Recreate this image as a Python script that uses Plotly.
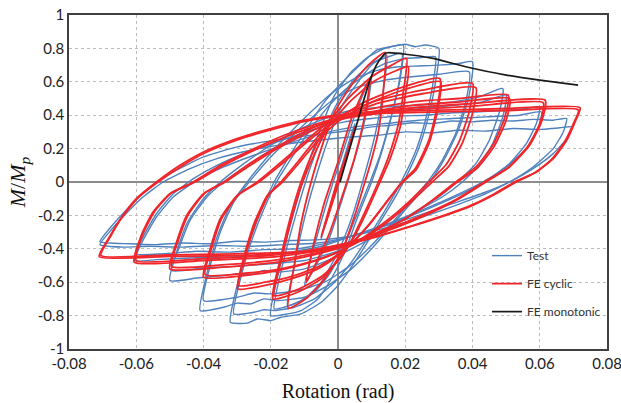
import plotly.graph_objects as go

# ---------------- axis ticks ----------------
x_tick_vals = [-0.08, -0.06, -0.04, -0.02, 0.0, 0.02, 0.04, 0.06, 0.08]
x_tick_text = ["-0.08", "-0.06", "-0.04", "-0.02", "0", "0.02", "0.04", "0.06", "0.08"]
y_tick_vals = [-1, -0.8, -0.6, -0.4, -0.2, 0, 0.2, 0.4, 0.6, 0.8, 1]
y_tick_text = ["-1", "-0.8", "-0.6", "-0.4", "-0.2", "0", "0.2", "0.4", "0.6", "0.8", "1"]

# ---------------- FE monotonic (rotation, M/Mp) ----------------
mono_x = [0.0006, 0.0035, 0.0065, 0.0095, 0.012, 0.014, 0.0149, 0.020, 0.0283, 0.038, 0.050, 0.060, 0.0714]
mono_y = [0.0, 0.20, 0.41, 0.61, 0.72, 0.77, 0.774, 0.765, 0.74, 0.69, 0.64, 0.61, 0.58]

# ---------------- FE cyclic loops: (rotation, M/Mp) ----------------
fe_005 = [(-0.005, -0.33), (0.0, -0.02), (0.005, 0.33), (0.0045, 0.28), (0.0, 0.02), (-0.005, -0.33)]
fe_010 = [(-0.0095, -0.60), (-0.007, -0.35), (-0.004, -0.12), (0.0, 0.12), (0.004, 0.38), (0.0095, 0.62),
          (0.008, 0.40), (0.005, 0.15), (0.001, -0.10), (-0.003, -0.33), (-0.0095, -0.60)]
fe_015 = [(-0.0148, -0.756), (-0.013, -0.50), (-0.011, -0.25), (-0.008, 0.0), (-0.005, 0.20), (-0.001, 0.42),
          (0.004, 0.58), (0.009, 0.70), (0.014, 0.775), (0.0135, 0.55), (0.012, 0.30), (0.0095, 0.10),
          (0.008, 0.0), (0.005, -0.20), (0.001, -0.42), (-0.004, -0.58), (-0.009, -0.69), (-0.0148, -0.756)]
fe_020_1 = [(-0.0194, -0.70), (-0.017, -0.45), (-0.014, -0.20), (-0.011, 0.0), (-0.007, 0.20), (-0.003, 0.35),
            (0.003, 0.50), (0.010, 0.63), (0.016, 0.70), (0.0204, 0.74), (0.0195, 0.55), (0.018, 0.35),
            (0.015, 0.15), (0.012, 0.0), (0.008, -0.18), (0.004, -0.35), (0.0, -0.47), (-0.005, -0.58),
            (-0.012, -0.66), (-0.0194, -0.70)]
fe_020_2 = [(-0.019, -0.68), (-0.0165, -0.44), (-0.0135, -0.195), (-0.0105, 0.0), (-0.0065, 0.19), (-0.0025, 0.34),
            (0.0035, 0.48), (0.0105, 0.60), (0.0165, 0.66), (0.0209, 0.69), (0.0200, 0.52), (0.0185, 0.33),
            (0.0155, 0.14), (0.0125, 0.0), (0.0085, -0.18), (0.0045, -0.34), (0.0005, -0.46), (-0.0045, -0.56),
            (-0.0115, -0.64), (-0.019, -0.68)]
fe_030_1 = [(-0.0298, -0.64), (-0.028, -0.45), (-0.025, -0.25), (-0.021, -0.08), (-0.017, 0.0), (-0.012, 0.12),
            (-0.006, 0.27), (0.0, 0.38), (0.008, 0.48), (0.018, 0.56), (0.0303, 0.62), (0.0295, 0.45),
            (0.027, 0.25), (0.023, 0.08), (0.019, 0.0), (0.014, -0.13), (0.009, -0.26), (0.004, -0.37),
            (0.0, -0.44), (-0.006, -0.52), (-0.014, -0.58), (-0.022, -0.62), (-0.0298, -0.64)]
fe_030_2 = [(-0.0295, -0.62), (-0.0275, -0.44), (-0.0245, -0.245), (-0.0205, -0.075), (-0.0165, 0.0), (-0.0115, 0.115),
            (-0.0055, 0.26), (0.0005, 0.37), (0.0085, 0.465), (0.0185, 0.545), (0.0305, 0.60), (0.0297, 0.44),
            (0.0273, 0.245), (0.0233, 0.075), (0.0193, 0.0), (0.0143, -0.125), (0.0093, -0.255), (0.0043, -0.36),
            (0.0003, -0.43), (-0.0057, -0.505), (-0.0137, -0.565), (-0.0217, -0.60), (-0.0295, -0.62)]
fe_040_1 = [(-0.040, -0.57), (-0.038, -0.40), (-0.035, -0.22), (-0.030, -0.08), (-0.024, 0.0), (-0.018, 0.10),
            (-0.010, 0.24), (-0.004, 0.34), (0.003, 0.42), (0.012, 0.49), (0.025, 0.55), (0.040, 0.59),
            (0.039, 0.42), (0.036, 0.24), (0.032, 0.10), (0.027, 0.0), (0.021, -0.12), (0.014, -0.24),
            (0.007, -0.34), (0.0, -0.42), (-0.008, -0.48), (-0.018, -0.53), (-0.028, -0.56), (-0.040, -0.57)]
fe_040_2 = [(-0.0395, -0.555), (-0.0375, -0.39), (-0.0345, -0.215), (-0.0295, -0.075), (-0.0235, 0.0), (-0.0175, 0.095),
            (-0.0095, 0.235), (-0.0035, 0.33), (0.0035, 0.41), (0.0125, 0.475), (0.0255, 0.53), (0.041, 0.565),
            (0.040, 0.41), (0.037, 0.235), (0.033, 0.095), (0.028, 0.0), (0.022, -0.115), (0.015, -0.235),
            (0.008, -0.335), (0.001, -0.41), (-0.007, -0.47), (-0.017, -0.52), (-0.027, -0.545), (-0.0395, -0.555)]
fe_050_1 = [(-0.050, -0.52), (-0.048, -0.36), (-0.045, -0.20), (-0.040, -0.07), (-0.034, 0.0), (-0.027, 0.10),
            (-0.019, 0.20), (-0.010, 0.30), (-0.002, 0.37), (0.008, 0.43), (0.022, 0.48), (0.036, 0.50),
            (0.0506, 0.52), (0.0495, 0.38), (0.046, 0.22), (0.041, 0.09), (0.035, 0.0), (0.028, -0.11),
            (0.020, -0.22), (0.011, -0.31), (0.003, -0.38), (-0.006, -0.43), (-0.018, -0.48), (-0.034, -0.51),
            (-0.050, -0.52)]
fe_050_2 = [(-0.0495, -0.505), (-0.0475, -0.35), (-0.0445, -0.195), (-0.0395, -0.065), (-0.0335, 0.0), (-0.0265, 0.095),
            (-0.0185, 0.195), (-0.0095, 0.29), (-0.0015, 0.36), (0.0085, 0.415), (0.0225, 0.46), (0.0365, 0.48),
            (0.051, 0.50), (0.050, 0.37), (0.0465, 0.215), (0.0415, 0.085), (0.0355, 0.0), (0.0285, -0.105),
            (0.0205, -0.215), (0.0115, -0.305), (0.0035, -0.37), (-0.0055, -0.42), (-0.0175, -0.465), (-0.0335, -0.495),
            (-0.0495, -0.505)]
fe_060_1 = [(-0.0606, -0.48), (-0.0585, -0.32), (-0.055, -0.18), (-0.050, -0.07), (-0.043, 0.0), (-0.035, 0.10),
            (-0.026, 0.19), (-0.016, 0.28), (-0.006, 0.35), (0.004, 0.40), (0.020, 0.44), (0.040, 0.47),
            (0.0616, 0.49), (0.0605, 0.36), (0.057, 0.22), (0.051, 0.09), (0.044, 0.0), (0.036, -0.10),
            (0.026, -0.20), (0.015, -0.29), (0.005, -0.36), (-0.005, -0.41), (-0.020, -0.45), (-0.040, -0.47),
            (-0.0606, -0.48)]
fe_060_2 = [(-0.060, -0.47), (-0.058, -0.31), (-0.0545, -0.175), (-0.0495, -0.065), (-0.0425, 0.0), (-0.0345, 0.095),
            (-0.0255, 0.185), (-0.0155, 0.27), (-0.0055, 0.34), (0.0045, 0.39), (0.0205, 0.43), (0.0405, 0.455),
            (0.061, 0.475), (0.060, 0.35), (0.0565, 0.215), (0.0505, 0.085), (0.0435, 0.0), (0.0355, -0.10),
            (0.0255, -0.195), (0.0145, -0.285), (0.0045, -0.355), (-0.0055, -0.40), (-0.0205, -0.44), (-0.0405, -0.46),
            (-0.060, -0.47)]
fe_070_1 = [(-0.071, -0.447), (-0.068, -0.33), (-0.065, -0.23), (-0.060, -0.10), (-0.054, 0.0), (-0.047, 0.10),
            (-0.040, 0.18), (-0.030, 0.26), (-0.020, 0.32), (-0.010, 0.37), (0.0, 0.40), (0.010, 0.42),
            (0.030, 0.43), (0.050, 0.44), (0.072, 0.445), (0.0705, 0.36), (0.068, 0.25), (0.064, 0.14),
            (0.059, 0.06), (0.053, 0.0), (0.047, -0.07), (0.040, -0.14), (0.032, -0.20), (0.022, -0.265),
            (0.012, -0.325), (0.0, -0.385), (-0.010, -0.42), (-0.030, -0.44), (-0.050, -0.445), (-0.071, -0.447)]
fe_070_2 = [(-0.0705, -0.44), (-0.0675, -0.32), (-0.0645, -0.22), (-0.0595, -0.095), (-0.0535, 0.0), (-0.0465, 0.095),
            (-0.0395, 0.175), (-0.0295, 0.255), (-0.0195, 0.315), (-0.0095, 0.365), (0.0005, 0.395), (0.0105, 0.41),
            (0.0305, 0.42), (0.0505, 0.428), (0.0715, 0.432), (0.070, 0.35), (0.0675, 0.245), (0.0635, 0.135),
            (0.0585, 0.055), (0.0525, 0.0), (0.0465, -0.07), (0.0395, -0.14), (0.0315, -0.20), (0.0215, -0.265),
            (0.0115, -0.325), (-0.0005, -0.38), (-0.0105, -0.415), (-0.0305, -0.43), (-0.0505, -0.437), (-0.0705, -0.44)]

# ---------------- Test loops: (rotation, M/Mp) ----------------
test_005 = [(-0.005, -0.34), (-0.001, -0.05), (0.005, 0.35), (0.0045, 0.29), (0.0, 0.0), (-0.005, -0.34)]
test_010 = [(-0.010, -0.62), (-0.007, -0.38), (-0.003, -0.10), (0.001, 0.15), (0.005, 0.40), (0.010, 0.64),
            (0.0085, 0.42), (0.005, 0.14), (0.001, -0.12), (-0.003, -0.36), (-0.010, -0.62)]
test_015 = [(-0.015, -0.74), (-0.013, -0.50), (-0.010, -0.22), (-0.007, 0.0), (-0.003, 0.25), (0.001, 0.45),
            (0.006, 0.60), (0.010, 0.70), (0.0145, 0.76), (0.0135, 0.55), (0.011, 0.28), (0.008, 0.05),
            (0.004, -0.22), (0.0, -0.42), (-0.005, -0.60), (-0.010, -0.70), (-0.015, -0.74)]
test_020_1 = [(-0.020, -0.80), (-0.018, -0.57), (-0.015, -0.32), (-0.012, -0.10), (-0.009, 0.10), (-0.005, 0.33),
              (-0.001, 0.52), (0.004, 0.66), (0.009, 0.75), (0.014, 0.80), (0.0194, 0.82), (0.0185, 0.62),
              (0.016, 0.40), (0.013, 0.18), (0.010, 0.0), (0.006, -0.20), (0.002, -0.42), (-0.002, -0.58),
              (-0.006, -0.70), (-0.011, -0.77), (-0.015, -0.79), (-0.020, -0.80)]
test_020_2 = [(-0.019, -0.76), (-0.017, -0.54), (-0.014, -0.30), (-0.011, -0.09), (-0.008, 0.10), (-0.004, 0.31),
              (0.0, 0.48), (0.005, 0.62), (0.010, 0.71), (0.015, 0.75), (0.019, 0.77), (0.018, 0.58),
              (0.0155, 0.37), (0.0125, 0.16), (0.0095, 0.0), (0.0055, -0.20), (0.0015, -0.40), (-0.0025, -0.55),
              (-0.007, -0.66), (-0.012, -0.72), (-0.016, -0.75), (-0.019, -0.76)]
test_030_1 = [(-0.032, -0.84), (-0.030, -0.62), (-0.027, -0.40), (-0.023, -0.18), (-0.019, 0.0), (-0.014, 0.17),
              (-0.009, 0.33), (-0.004, 0.48), (0.0, 0.57), (0.006, 0.69), (0.0115, 0.79), (0.0155, 0.81),
              (0.020, 0.825), (0.023, 0.81), (0.026, 0.82), (0.030, 0.80), (0.029, 0.60), (0.027, 0.40),
              (0.024, 0.20), (0.020, 0.02), (0.015, -0.16), (0.010, -0.32), (0.005, -0.48), (0.0, -0.62),
              (-0.005, -0.72), (-0.011, -0.79), (-0.017, -0.81), (-0.020, -0.83), (-0.024, -0.82),
              (-0.027, -0.845), (-0.032, -0.84)]
test_030_2 = [(-0.031, -0.79), (-0.029, -0.58), (-0.026, -0.37), (-0.022, -0.16), (-0.018, 0.01), (-0.013, 0.17),
              (-0.008, 0.32), (-0.003, 0.45), (0.002, 0.55), (0.008, 0.64), (0.014, 0.71), (0.020, 0.74),
              (0.025, 0.745), (0.029, 0.75), (0.028, 0.56), (0.026, 0.37), (0.023, 0.18), (0.019, 0.01),
              (0.014, -0.17), (0.009, -0.33), (0.004, -0.48), (-0.001, -0.60), (-0.007, -0.70), (-0.013, -0.75),
              (-0.019, -0.77), (-0.022, -0.765), (-0.025, -0.78), (-0.031, -0.79)]
test_040_1 = [(-0.041, -0.77), (-0.039, -0.55), (-0.036, -0.33), (-0.032, -0.14), (-0.027, 0.0), (-0.021, 0.15),
              (-0.015, 0.28), (-0.008, 0.42), (-0.002, 0.53), (0.005, 0.62), (0.012, 0.67), (0.018, 0.69),
              (0.024, 0.695), (0.030, 0.70), (0.036, 0.71), (0.040, 0.72), (0.039, 0.52), (0.036, 0.32),
              (0.032, 0.15), (0.028, 0.02), (0.022, -0.12), (0.016, -0.26), (0.010, -0.40), (0.004, -0.52),
              (-0.003, -0.62), (-0.010, -0.69), (-0.018, -0.71), (-0.022, -0.70), (-0.026, -0.73), (-0.030, -0.725),
              (-0.034, -0.75), (-0.041, -0.77)]
test_040_2 = [(-0.040, -0.71), (-0.038, -0.50), (-0.035, -0.30), (-0.031, -0.12), (-0.026, 0.01), (-0.020, 0.15),
              (-0.014, 0.27), (-0.007, 0.40), (-0.001, 0.50), (0.006, 0.57), (0.014, 0.61), (0.022, 0.63),
              (0.030, 0.645), (0.039, 0.66), (0.038, 0.48), (0.035, 0.29), (0.031, 0.13), (0.027, 0.01),
              (0.021, -0.13), (0.015, -0.27), (0.009, -0.40), (0.003, -0.51), (-0.004, -0.60), (-0.012, -0.65),
              (-0.020, -0.67), (-0.025, -0.665), (-0.030, -0.69), (-0.040, -0.71)]
test_050_1 = [(-0.050, -0.59), (-0.048, -0.42), (-0.045, -0.25), (-0.040, -0.10), (-0.035, 0.0), (-0.028, 0.11),
              (-0.020, 0.22), (-0.012, 0.31), (-0.004, 0.38), (0.004, 0.43), (0.014, 0.45), (0.024, 0.46),
              (0.034, 0.48), (0.042, 0.51), (0.049, 0.56), (0.048, 0.42), (0.045, 0.25), (0.041, 0.11),
              (0.036, 0.01), (0.030, -0.09), (0.022, -0.19), (0.014, -0.29), (0.006, -0.38), (-0.002, -0.46),
              (-0.010, -0.52), (-0.018, -0.54), (-0.022, -0.53), (-0.026, -0.555), (-0.030, -0.55),
              (-0.034, -0.56), (-0.042, -0.575), (-0.050, -0.59)]
test_050_2 = [(-0.0495, -0.53), (-0.047, -0.38), (-0.044, -0.23), (-0.039, -0.09), (-0.034, 0.0), (-0.027, 0.10),
              (-0.019, 0.20), (-0.011, 0.28), (-0.003, 0.35), (0.005, 0.40), (0.015, 0.42), (0.025, 0.44),
              (0.035, 0.46), (0.043, 0.48), (0.050, 0.52), (0.049, 0.39), (0.046, 0.23), (0.042, 0.10),
              (0.037, 0.0), (0.031, -0.09), (0.023, -0.18), (0.015, -0.27), (0.007, -0.35), (-0.001, -0.42),
              (-0.010, -0.47), (-0.020, -0.49), (-0.030, -0.505), (-0.040, -0.515), (-0.0495, -0.53)]
test_060_1 = [(-0.060, -0.43), (-0.058, -0.33), (-0.054, -0.19), (-0.049, -0.07), (-0.043, 0.02), (-0.036, 0.10),
              (-0.028, 0.17), (-0.018, 0.24), (-0.008, 0.31), (0.002, 0.36), (0.010, 0.38), (0.018, 0.395),
              (0.026, 0.40), (0.034, 0.415), (0.042, 0.42), (0.050, 0.43), (0.056, 0.44), (0.060, 0.45),
              (0.059, 0.35), (0.056, 0.23), (0.051, 0.11), (0.045, 0.02), (0.037, -0.07), (0.028, -0.15),
              (0.018, -0.23), (0.008, -0.30), (-0.002, -0.36), (-0.012, -0.40), (-0.022, -0.405), (-0.032, -0.42),
              (-0.042, -0.415), (-0.052, -0.43), (-0.060, -0.43)]
test_060_2 = [(-0.0605, -0.47), (-0.058, -0.35), (-0.054, -0.21), (-0.049, -0.09), (-0.042, 0.01), (-0.034, 0.09),
              (-0.025, 0.16), (-0.015, 0.23), (-0.005, 0.29), (0.005, 0.33), (0.014, 0.35), (0.024, 0.37),
              (0.034, 0.38), (0.044, 0.39), (0.054, 0.40), (0.0605, 0.42), (0.0595, 0.32), (0.056, 0.20),
              (0.050, 0.09), (0.043, 0.0), (0.035, -0.08), (0.026, -0.16), (0.016, -0.24), (0.006, -0.31),
              (-0.004, -0.38), (-0.014, -0.42), (-0.024, -0.44), (-0.034, -0.45), (-0.044, -0.455),
              (-0.054, -0.465), (-0.0605, -0.47)]
test_070_1 = [(-0.0708, -0.357), (-0.068, -0.28), (-0.064, -0.19), (-0.057, -0.05), (-0.050, 0.05), (-0.040, 0.15),
              (-0.030, 0.21), (-0.0205, 0.245), (-0.012, 0.27), (-0.004, 0.29), (0.004, 0.31), (0.010, 0.33),
              (0.016, 0.34), (0.022, 0.355), (0.028, 0.35), (0.034, 0.365), (0.040, 0.36), (0.046, 0.37),
              (0.052, 0.365), (0.058, 0.375), (0.064, 0.37), (0.068, 0.38), (0.067, 0.30), (0.064, 0.20),
              (0.058, 0.09), (0.051, 0.0), (0.044, -0.07), (0.035, -0.14), (0.025, -0.21), (0.015, -0.27),
              (0.005, -0.32), (-0.005, -0.345), (-0.014, -0.35), (-0.022, -0.36), (-0.030, -0.355),
              (-0.038, -0.37), (-0.046, -0.365), (-0.054, -0.375), (-0.062, -0.37), (-0.0708, -0.357)]
test_070_2 = [(-0.0708, -0.375), (-0.068, -0.30), (-0.064, -0.21), (-0.058, -0.09), (-0.052, 0.0), (-0.044, 0.08),
              (-0.036, 0.14), (-0.026, 0.19), (-0.016, 0.225), (-0.006, 0.25), (0.004, 0.27), (0.012, 0.28),
              (0.020, 0.30), (0.028, 0.295), (0.036, 0.31), (0.044, 0.305), (0.052, 0.32), (0.060, 0.315),
              (0.066, 0.325), (0.0695, 0.33), (0.068, 0.26), (0.064, 0.17), (0.058, 0.08), (0.052, 0.01),
              (0.044, -0.06), (0.034, -0.13), (0.024, -0.20), (0.013, -0.27), (0.003, -0.33), (-0.006, -0.365),
              (-0.016, -0.375), (-0.026, -0.385), (-0.036, -0.38), (-0.046, -0.39), (-0.056, -0.385),
              (-0.064, -0.39), (-0.0708, -0.375)]

test_loops = [test_005, test_010, test_015, test_020_1, test_020_2, test_030_1, test_030_2,
              test_040_1, test_040_2, test_050_1, test_050_2, test_060_1, test_060_2, test_070_1, test_070_2]
fe_loops = [fe_005, fe_010, fe_015, fe_020_1, fe_020_2, fe_030_1, fe_030_2, fe_040_1, fe_040_2,
            fe_050_1, fe_050_2, fe_060_1, fe_060_2, fe_070_1, fe_070_2]


def join(loops):
    xs, ys = [], []
    for lp in loops:
        for px, py in lp:
            xs.append(px)
            ys.append(py)
        xs.append(None)
        ys.append(None)
    return xs, ys


tx, ty = join(test_loops)
fx, fy = join(fe_loops)

fig = go.Figure()
fig.add_trace(go.Scatter(x=tx, y=ty, mode="lines", name="Test", legendgroup="a",
                         line=dict(color="#4f81bd", width=1.4, shape="spline", smoothing=0.5)))
fig.add_trace(go.Scatter(x=fx, y=fy, mode="lines", name="FE cyclic", legendgroup="b",
                         line=dict(color="#f0262b", width=1.8, shape="spline", smoothing=0.55)))
fig.add_trace(go.Scatter(x=mono_x, y=mono_y, mode="lines", name="FE monotonic", legendgroup="c",
                         line=dict(color="#1a1a1a", width=1.7, shape="spline", smoothing=0.5)))

tick_font = dict(family="Lato, Liberation Sans, sans-serif", size=15, color="#222222")
fig.update_layout(
    width=621, height=403,
    margin=dict(l=69, r=14, t=15, b=54, autoexpand=False),
    paper_bgcolor="white", plot_bgcolor="white",
    showlegend=True,
    legend=dict(x=0.777, y=0.323, xanchor="left", yanchor="top", bgcolor="rgba(0,0,0,0)",
                font=dict(family="Lato, Liberation Sans, sans-serif", size=12, color="#333333"),
                tracegroupgap=9, itemwidth=30),
    xaxis=dict(range=[-0.08, 0.08], tickvals=x_tick_vals, ticktext=x_tick_text, tickfont=tick_font,
               automargin=False, ticklabeloverflow="allow",
               showgrid=True, gridcolor="#bdbdbd", griddash="dot", gridwidth=1,
               zeroline=True, zerolinecolor="#8c8c8c", zerolinewidth=2,
               showline=True, mirror=True, linecolor="#404040", linewidth=1.5, ticks="",
               title=dict(text="Rotation (rad)", standoff=13,
                          font=dict(family="Liberation Serif, serif", size=20, color="#111111"))),
    yaxis=dict(range=[-1, 1], tickvals=y_tick_vals, ticktext=y_tick_text, tickfont=tick_font,
               automargin=False, ticklabeloverflow="allow",
               showgrid=True, gridcolor="#bdbdbd", griddash="dot", gridwidth=1,
               zeroline=True, zerolinecolor="#8c8c8c", zerolinewidth=2,
               showline=True, mirror=True, linecolor="#404040", linewidth=1.5, ticks="",
               title=dict(text="<i>M</i>/<i>M<sub>p</sub></i>", standoff=6,
                          font=dict(family="Liberation Serif, serif", size=22, color="#111111"))),
)

fig.write_html("out.html", config={"displayModeBar": False},
               post_script="document.body.style.margin='0px';")
